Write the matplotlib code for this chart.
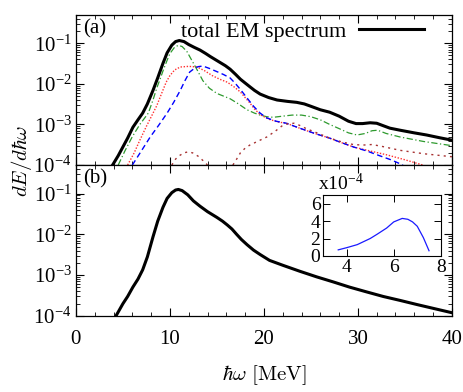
import numpy as np
import matplotlib.pyplot as plt
from matplotlib.ticker import LogLocator, NullFormatter, MultipleLocator

plt.rcParams['font.family'] = ['Liberation Serif', 'DejaVu Serif']
plt.rcParams['mathtext.fontset'] = 'stix'
plt.rcParams['font.size'] = 15
plt.rcParams['lines.solid_joinstyle'] = 'round'
plt.rcParams['lines.dash_joinstyle'] = 'round'

# panel (a): total and components
tot_x = [3.9, 4.5, 5.0, 5.5, 6.06, 6.6, 7.1, 7.6, 8.2, 8.7, 9.26, 9.7, 10.2, 10.6, 11.0, 11.5,
         12.0, 12.6, 13.2, 13.8, 14.3, 15.3, 15.9, 16.4, 17.0, 17.5, 18.0, 18.5, 19.0, 19.6,
         20.5, 21.4, 22.5, 23.5, 24.3, 25.0, 26.0, 27.0, 28.0, 29.0, 29.8, 30.5, 31.3, 32.0,
         32.7, 33.4, 34.5, 36.0, 37.3, 38.7, 40.0]
tot_y = [1.0e-4, 1.7e-4, 2.8e-4, 4.6e-4, 8.5e-4, 1.3e-3, 1.9e-3, 3.2e-3, 6.9e-3, 1.4e-2,
         3.2e-2, 5.8e-2, 9.0e-2, 1.1e-1, 1.17e-1, 1.1e-1, 9.3e-2, 7.9e-2, 6.8e-2, 5.6e-2,
         4.7e-2, 3.4e-2, 2.8e-2, 2.3e-2, 1.7e-2, 1.3e-2, 1.05e-2, 8.5e-3, 6.9e-3, 5.6e-3,
         4.6e-3, 4.0e-3, 3.7e-3, 3.5e-3, 3.2e-3, 2.8e-3, 2.3e-3, 2.0e-3, 1.6e-3, 1.2e-3,
         1.05e-3, 1.05e-3, 1.1e-3, 1.07e-3, 9.3e-4, 8.1e-4, 7.2e-4, 6.2e-4, 5.5e-4, 4.7e-4,
         4.1e-4]

grn_x = [4.5, 5.2, 6.0, 6.8, 7.7, 8.2, 8.6, 9.0, 9.3, 9.7, 10.0, 10.5, 10.9, 11.3, 11.8, 12.3,
         12.9, 13.5, 14.2, 15.0, 16.4, 17.3, 18.2, 19.0, 19.6, 20.3, 21.0, 22.0, 23.0, 24.0,
         25.0, 26.0, 27.0, 28.0, 29.0, 29.9, 30.8, 31.5, 32.1, 33.0, 34.5, 37.0, 40.0]
grn_y = [1.0e-4, 2.2e-4, 5.0e-4, 1.0e-3, 1.9e-3, 4.0e-3, 7.9e-3, 1.4e-2, 2.2e-2, 3.8e-2,
         5.6e-2, 8.0e-2, 8.9e-2, 8.3e-2, 6.3e-2, 3.9e-2, 2.2e-2, 1.2e-2, 7.8e-3, 5.8e-3,
         4.3e-3, 3.2e-3, 2.3e-3, 1.9e-3, 1.7e-3, 1.55e-3, 1.5e-3, 1.6e-3, 1.7e-3, 1.7e-3,
         1.55e-3, 1.3e-3, 1.0e-3, 7.9e-4, 6.2e-4, 5.5e-4, 6.0e-4, 7.0e-4, 7.2e-4, 6.0e-4,
         4.9e-4, 3.8e-4, 3.0e-4]

red_x = [5.5, 6.2, 6.8, 7.5, 8.1, 8.6, 9.2, 9.6, 10.0, 10.5, 11.1, 12.0, 12.9, 13.7, 14.5,
         15.3, 16.1, 16.8, 17.5, 18.0, 18.5, 19.0, 19.6, 20.5, 21.5, 22.4, 23.1, 23.8, 25.4,
         27.0, 28.2, 29.5, 31.0, 33.0, 35.0, 36.9]
red_y = [1.0e-4, 2.0e-4, 4.1e-4, 9.0e-4, 1.7e-3, 2.9e-3, 6.5e-3, 1.1e-2, 1.6e-2, 2.2e-2,
         2.6e-2, 2.7e-2, 2.6e-2, 2.1e-2, 1.6e-2, 1.3e-2, 1.1e-2, 8.5e-3, 6.3e-3, 4.6e-3,
         3.4e-3, 2.4e-3, 1.75e-3, 1.35e-3, 1.15e-3, 1.07e-3, 9.3e-4, 8.1e-4, 6.0e-4, 4.6e-4,
         3.6e-4, 2.8e-4, 2.3e-4, 1.8e-4, 1.35e-4, 1.0e-4]

blu_x = [6.0, 7.0, 7.9, 8.8, 9.7, 10.4, 11.1, 11.6, 12.1, 12.6, 13.0, 13.5, 14.2, 15.0, 15.7,
         16.4, 17.0, 17.6, 18.2, 18.9, 19.6, 20.3, 21.3, 22.4, 23.1, 23.8, 25.4, 27.0, 28.2,
         29.5, 31.0, 32.0, 33.5, 34.8]
blu_y = [1.0e-4, 2.3e-4, 4.9e-4, 9.5e-4, 1.9e-3, 3.5e-3, 6.9e-3, 1.2e-2, 1.95e-2, 2.4e-2,
         2.65e-2, 2.75e-2, 2.4e-2, 2.0e-2, 1.7e-2, 1.4e-2, 1.0e-2, 6.8e-3, 4.5e-3, 2.8e-3,
         1.9e-3, 1.45e-3, 1.2e-3, 1.07e-3, 9.3e-4, 8.1e-4, 6.0e-4, 4.6e-4, 3.6e-4, 2.8e-4,
         2.2e-4, 1.8e-4, 1.35e-4, 1.0e-4]

brn1_x = [10.2, 10.6, 11.0, 11.5, 11.9, 12.4, 13.0, 13.5, 14.0]
brn1_y = [1.0e-4, 1.4e-4, 1.7e-4, 2.0e-4, 2.1e-4, 2.0e-4, 1.65e-4, 1.3e-4, 1.0e-4]
brn2_x = [16.7, 17.1, 17.5, 18.0, 18.5, 19.4, 20.3, 21.2, 22.0, 22.6, 23.2, 23.8, 24.5, 25.8,
          27.0, 28.3, 29.5, 30.5, 31.5, 32.5, 34.5, 37.0, 40.0]
brn2_y = [1.0e-4, 1.4e-4, 2.0e-4, 2.6e-4, 3.1e-4, 3.9e-4, 4.9e-4, 6.8e-4, 9.5e-4, 1.05e-3,
          1.07e-3, 9.5e-4, 7.9e-4, 6.0e-4, 4.6e-4, 3.7e-4, 3.2e-4, 3.1e-4, 3.2e-4, 2.9e-4,
          2.3e-4, 1.9e-4, 1.6e-4]

# panel (b)
b_x = [4.26, 5.0, 5.5, 6.06, 6.6, 7.1, 7.6, 8.2, 8.7, 9.26, 9.7, 10.2, 10.6, 10.9, 11.3, 11.9,
       12.5, 13.2, 14.0, 15.0, 15.6, 16.1, 16.6, 17.1, 17.6, 18.2, 18.9, 19.6, 20.6, 22.0, 23.8,
       25.6, 27.4, 29.1, 30.9, 32.7, 34.5, 36.3, 38.2, 40.0]
b_y = [1.0e-4, 2.0e-4, 3.0e-4, 5.1e-4, 8.0e-4, 1.35e-3, 2.8e-3, 8.7e-3, 2.1e-2, 4.6e-2,
       7.6e-2, 1.05e-1, 1.22e-1, 1.26e-1, 1.18e-1, 9.3e-2, 6.6e-2, 4.9e-2, 3.6e-2, 2.6e-2,
       2.1e-2, 1.7e-2, 1.35e-2, 1.0e-2, 7.5e-3, 5.6e-3, 4.1e-3, 3.2e-3, 2.3e-3, 1.75e-3,
       1.25e-3, 9.1e-4, 6.8e-4, 5.1e-4, 3.9e-4, 3.0e-4, 2.4e-4, 1.9e-4, 1.5e-4, 1.2e-4]

# inset (units of 1e-4)
ins_x = [3.64, 4.0, 4.45, 5.0, 5.3, 5.7, 6.0, 6.36, 6.6, 6.8, 7.0, 7.26, 7.5]
ins_y = [0.7, 0.95, 1.3, 2.0, 2.5, 3.2, 3.9, 4.3, 4.2, 3.9, 3.4, 2.1, 0.6]

ylog_ticks = [1e-4, 1e-3, 1e-2, 1e-1]
ylog_labels = [r'$\mathregular{10^{-4}}$', r'$\mathregular{10^{-3}}$',
               r'$\mathregular{10^{-2}}$', r'$\mathregular{10^{-1}}$']

fig = plt.figure(figsize=(4.63, 3.92), dpi=100)
ax1 = fig.add_axes([0.164, 0.579, 0.812, 0.383])
ax2 = fig.add_axes([0.164, 0.194, 0.812, 0.385])


def style(ax):
    ax.set_yscale('log')
    ax.set_xlim(0, 40)
    ax.set_ylim(1e-4, 0.5)
    ax.set_yticks(ylog_ticks)
    ax.set_yticklabels(ylog_labels)
    ax.yaxis.set_minor_locator(LogLocator(base=10, subs=np.arange(2, 10)))
    ax.yaxis.set_minor_formatter(NullFormatter())
    ax.xaxis.set_major_locator(MultipleLocator(10))
    ax.xaxis.set_minor_locator(MultipleLocator(2))
    ax.tick_params(which='both', direction='in', top=True, right=True)
    ax.tick_params(which='major', length=6, width=0.8)
    ax.tick_params(which='minor', length=3, width=0.6)
    ax.tick_params(axis='y', pad=3)
    ax.tick_params(axis='x', pad=10)
    for s in ax.spines.values():
        s.set_linewidth(0.9)


style(ax1)
style(ax2)

ax1.plot(tot_x, tot_y, color='black', lw=2.2, label='total EM spectrum')
ax1.plot(grn_x, grn_y, color='#2e9a2e', lw=0.9, ls=(0, (5, 2, 1, 2)))
ax1.plot(red_x, red_y, color='#ff3030', lw=1.0, ls=(0, (1, 1.2)))
ax1.plot(blu_x, blu_y, color='#0000ff', lw=1.0, ls=(0, (4, 2.5)))
ax1.plot(brn1_x, brn1_y, color='#a83232', lw=1.0, ls=(0, (1.5, 3)))
ax1.plot(brn2_x, brn2_y, color='#a83232', lw=1.0, ls=(0, (1.5, 3)))
ax1.set_xticklabels([])
ax1.legend(loc='upper right', frameon=False, markerfirst=False, handlelength=2.9,
           borderaxespad=0.1, handletextpad=0.6, bbox_to_anchor=(0.955, 1.03), fontsize=16)
ax1.text(0.02, 0.97, '(a)', transform=ax1.transAxes, ha='left', va='top')

ax2.plot(b_x, b_y, color='black', lw=2.2)
ax2.text(0.02, 0.97, '(b)', transform=ax2.transAxes, ha='left', va='top')
ax2.set_xlabel(r'$\hbar\omega\ [\mathrm{MeV}]$', math_fontfamily='cm', labelpad=10)

fig.text(0.02, 0.59, r'$dE/d\hbar\omega$', rotation=90, ha='left', va='center',
         math_fontfamily='cm')

ins = fig.add_axes([0.698, 0.347, 0.254, 0.156])
ins.plot(ins_x, ins_y, color='#1a1aff', lw=0.9)
ins.set_xlim(3, 8)
ins.set_ylim(0, 7)
ins.set_xticks([4, 6, 8])
ins.set_yticks([0, 2, 4, 6])
ins.xaxis.set_minor_locator(MultipleLocator(1))
ins.yaxis.set_minor_locator(MultipleLocator(1))
ins.tick_params(which='both', direction='in', top=True, right=True, labelsize=14)
ins.tick_params(which='major', length=5, width=0.7, pad=2)
ins.tick_params(which='minor', length=0)
ins.text(-0.04, 1.02, r'x$\mathregular{10^{-4}}$', transform=ins.transAxes, ha='left',
         va='bottom', fontsize=14)

fig.savefig('out.png', dpi=100)
